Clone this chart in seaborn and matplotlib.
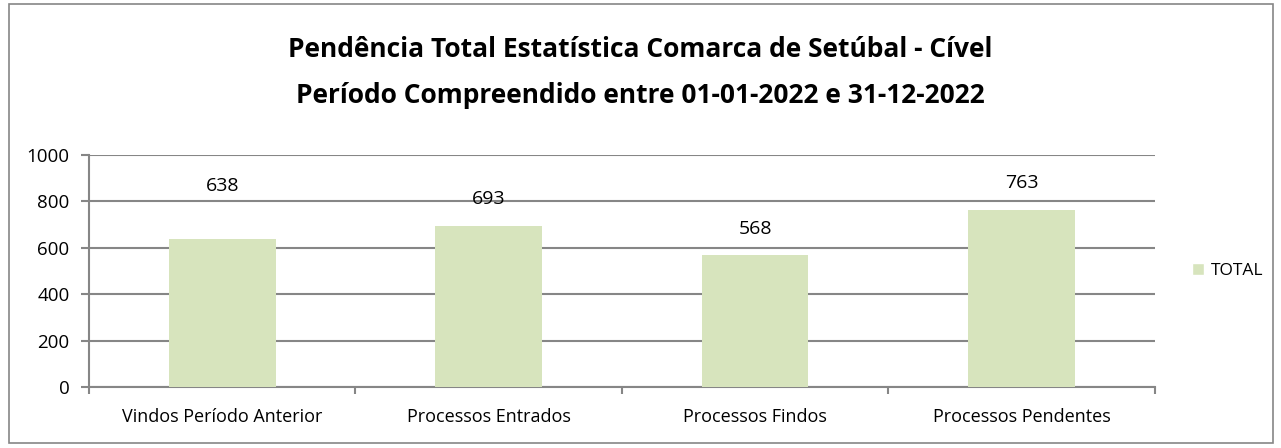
import pandas as pd
import seaborn as sns
from matplotlib import pyplot as plt
from matplotlib.patches import Rectangle, Patch

categories = ["Vindos Período Anterior", "Processos Entrados", "Processos Findos", "Processos Pendentes"]
totals = [638, 693, 568, 763]
series_name = "TOTAL"
title_lines = ["Pendência Total Estatística Comarca de Setúbal - Cível",
               "Período Compreendido entre 01-01-2022 e 31-12-2022"]
y_ticks = [0, 200, 400, 600, 800, 1000]

BAR = "#D7E4BD"
GRID = "#868686"
# label gap above each bar (data units), Excel pushed the first one higher
label_gap = [230, 118, 112, 116]


def main():
    sns.set_style("white")
    plt.rcParams["font.family"] = ["Open Sans", "DejaVu Sans"]
    plt.rcParams["text.color"] = "black"

    df = pd.DataFrame({"cat": categories, "val": totals})

    fig = plt.figure(figsize=(12.81, 4.48), dpi=100)
    ax = fig.add_axes([0.0695, 0.136, 0.832, 0.518])

    sns.barplot(data=df, x="cat", y="val", color=BAR, width=0.4, ax=ax,
                linewidth=0, saturation=1, zorder=3)

    ax.set_ylim(0, 1000)
    ax.set_xlim(-0.5, len(categories) - 0.5)
    ax.set_yticks(y_ticks)
    ax.yaxis.grid(True, color=GRID, linewidth=1.5, zorder=0)
    ax.set_axisbelow(True)
    for s in ["top", "right"]:
        ax.spines[s].set_visible(False)
    for s in ["left", "bottom"]:
        ax.spines[s].set_color(GRID)
        ax.spines[s].set_linewidth(1.5)
    ax.tick_params(axis="y", left=True, length=6, width=1.5, color=GRID,
                   labelsize=13.5, labelcolor="black", pad=8)
    ax.set_xticks(range(len(categories)), categories)
    ax.set_xticks([i - 0.5 for i in range(len(categories) + 1)], minor=True)
    ax.tick_params(axis="x", which="major", length=0, labelsize=13, labelcolor="black", pad=15)
    ax.tick_params(axis="x", which="minor", bottom=True, length=5, width=1.5,
                   color=GRID, direction="out")
    ax.set_xlabel("")
    ax.set_ylabel("")

    for i, v in enumerate(totals):
        ax.text(i, v + label_gap[i], str(v), ha="center", va="center", fontsize=14, zorder=4)

    fig.text(0.5, 0.890, title_lines[0], ha="center", va="center", fontsize=19, fontweight="bold")
    fig.text(0.5, 0.786, title_lines[1], ha="center", va="center", fontsize=19, fontweight="bold")

    ax.legend(handles=[Patch(facecolor=BAR, label=series_name)], loc="center left",
              bbox_to_anchor=(1.02, 0.5), frameon=False, fontsize=12.5,
              handlelength=0.7, handleheight=0.7, handletextpad=0.4)

    fig.patches.append(Rectangle((0.007, 0.012), 0.987, 0.978, transform=fig.transFigure,
                                 fill=False, edgecolor=GRID, linewidth=1.2))

    fig.savefig("out.png", dpi=100)


if __name__ == '__main__':
    main()
